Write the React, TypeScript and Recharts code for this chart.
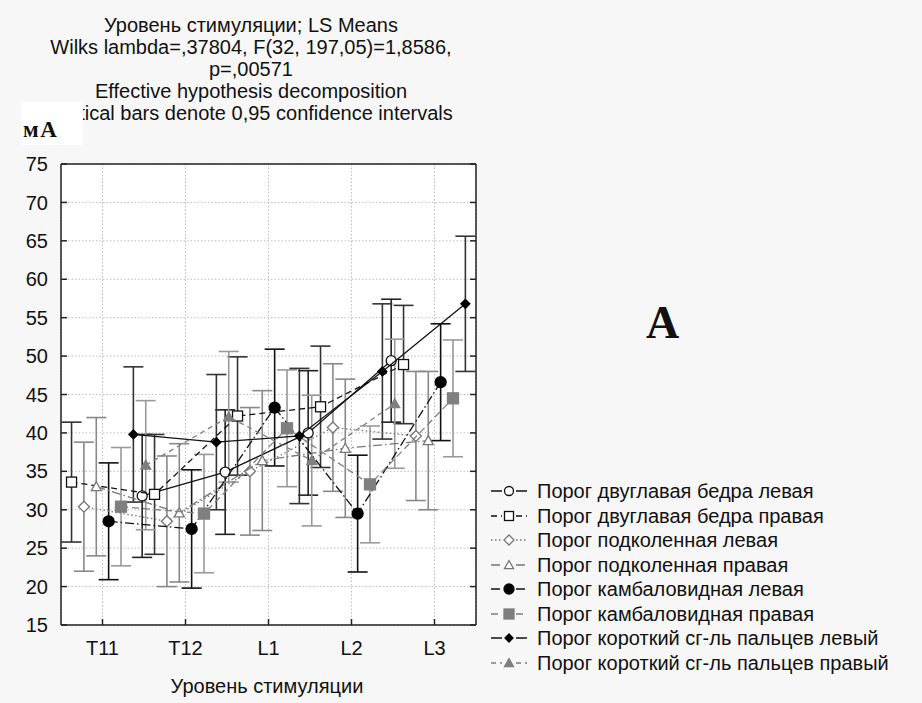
import React from 'react';
import { ScatterChart, Scatter, XAxis, YAxis, CartesianGrid, ErrorBar } from 'recharts';

// categories on the x axis
const categories = ['T11', 'T12', 'L1', 'L2', 'L3'];
const yTicks = [15, 20, 25, 30, 35, 40, 45, 50, 55, 60, 65, 70, 75];

// LS means and half-width of the 0.95 CI, one pair of arrays per series
const bicepsLeftMean = [null, 31.8, 34.9, 40.0, 49.4];
const bicepsLeftCi = [null, 8.0, 8.1, 8.1, 8.0];
const bicepsRightMean = [33.6, 32.0, 42.2, 43.4, 48.9];
const bicepsRightCi = [7.8, 7.8, 7.7, 7.9, 7.7];
const poplitealLeftMean = [30.4, 28.5, 35.0, 40.7, 39.6];
const poplitealLeftCi = [8.4, 8.5, 8.3, 8.3, 8.4];
const poplitealRightMean = [33.0, 29.6, 36.4, 38.0, 39.0];
const poplitealRightCi = [9.0, 9.0, 9.1, 9.0, 9.0];
const soleusLeftMean = [28.5, 27.5, 43.3, 29.5, 46.6];
const soleusLeftCi = [7.6, 7.7, 7.6, 7.6, 7.6];
const soleusRightMean = [30.4, 29.5, 40.6, 33.3, 44.5];
const soleusRightCi = [7.7, 7.7, 7.6, 7.6, 7.6];
const flexorLeftMean = [39.8, 38.8, 39.6, 48.0, 56.8];
const flexorLeftCi = [8.8, 8.8, 8.8, 8.8, 8.8];
const flexorRightMean = [35.8, 42.1, 36.4, 43.8, null];
const flexorRightCi = [8.4, 8.5, 8.5, 8.4, null];

type Kind = 'circle' | 'square' | 'diamond' | 'triangle';

interface SeriesCfg {
  name: string;
  mean: (number | null)[];
  ci: (number | null)[];
  offset: number;
  kind: Kind;
  size: number;
  fill: string;
  stroke: string;
  line: string;
  dash?: string;
  bar: string;
}

const series: SeriesCfg[] = [
  { name: 'Порог двуглавая бедра левая', mean: bicepsLeftMean, ci: bicepsLeftCi, offset: -0.522, kind: 'circle', size: 10, fill: '#fff', stroke: '#111', line: '#111', bar: '#222' },
  { name: 'Порог двуглавая бедра правая', mean: bicepsRightMean, ci: bicepsRightCi, offset: -0.373, kind: 'square', size: 10, fill: '#fff', stroke: '#111', line: '#111', dash: '6 4', bar: '#333' },
  { name: 'Порог подколенная левая', mean: poplitealLeftMean, ci: poplitealLeftCi, offset: -0.224, kind: 'diamond', size: 11, fill: '#fff', stroke: '#777', line: '#777', dash: '1.5 2.5', bar: '#888' },
  { name: 'Порог подколенная правая', mean: poplitealRightMean, ci: poplitealRightCi, offset: -0.075, kind: 'triangle', size: 10, fill: '#fff', stroke: '#777', line: '#777', dash: '9 3 1.5 3', bar: '#888' },
  { name: 'Порог камбаловидная левая', mean: soleusLeftMean, ci: soleusLeftCi, offset: 0.074, kind: 'circle', size: 11, fill: '#000', stroke: '#000', line: '#111', dash: '9 3 1.5 3', bar: '#111' },
  { name: 'Порог камбаловидная правая', mean: soleusRightMean, ci: soleusRightCi, offset: 0.223, kind: 'square', size: 11, fill: '#7f7f7f', stroke: '#7f7f7f', line: '#7f7f7f', dash: '7 4', bar: '#999' },
  { name: 'Порог короткий сг-ль пальцев левый', mean: flexorLeftMean, ci: flexorLeftCi, offset: 0.372, kind: 'diamond', size: 9, fill: '#000', stroke: '#000', line: '#111', bar: '#333' },
  { name: 'Порог короткий сг-ль пальцев правый', mean: flexorRightMean, ci: flexorRightCi, offset: 0.521, kind: 'triangle', size: 10, fill: '#7f7f7f', stroke: '#7f7f7f', line: '#7f7f7f', dash: '5 4', bar: '#999' },
];

const FONT = '"Liberation Sans", Arial, sans-serif';

const drawMarker = (kind: Kind, cx: number, cy: number, size: number, fill: string, stroke: string) => {
  const r = size / 2;
  if (kind === 'circle') return <circle cx={cx} cy={cy} r={r} fill={fill} stroke={stroke} strokeWidth={1.3} />;
  if (kind === 'square') return <rect x={cx - r} y={cy - r} width={size} height={size} fill={fill} stroke={stroke} strokeWidth={1.3} />;
  if (kind === 'diamond')
    return <polygon points={`${cx},${cy - r} ${cx + r},${cy} ${cx},${cy + r} ${cx - r},${cy}`} fill={fill} stroke={stroke} strokeWidth={1.3} />;
  return <polygon points={`${cx},${cy - r} ${cx + r},${cy + r * 0.8} ${cx - r},${cy + r * 0.8}`} fill={fill} stroke={stroke} strokeWidth={1.3} />;
};

const makeShape = (s: SeriesCfg) => (p: any) => {
  if (p.cx == null || p.cy == null) return <g />;
  return drawMarker(s.kind, p.cx, p.cy, s.size, s.fill, s.stroke);
};

const toPoints = (s: SeriesCfg) =>
  categories
    .map((c, i) => ({ x: i + 1 + s.offset, y: s.mean[i], err: s.ci[i], cat: c }))
    .filter((d) => d.y != null);

const LegendIcon = ({ s }: { s: SeriesCfg }) => (
  <svg width={36} height={16} style={{ display: 'block' }}>
    <line x1={0} y1={8} x2={11} y2={8} stroke={s.line} strokeWidth={1.5} strokeDasharray={s.dash} />
    <line x1={25} y1={8} x2={36} y2={8} stroke={s.line} strokeWidth={1.5} strokeDasharray={s.dash} />
    {drawMarker(s.kind, 18, 8, s.size - 1, s.fill, s.stroke)}
  </svg>
);

export default function App() {
  return (
    <div style={{ position: 'absolute', left: 0, top: 0, width: 922, height: 703, background: '#f7f7f7', fontFamily: FONT, color: '#111' }}>
      <div style={{ position: 'absolute', left: 0, top: 14, width: 502, textAlign: 'center', fontSize: 20, lineHeight: '22px' }}>
        <div>Уровень стимуляции; LS Means</div>
        <div>Wilks lambda=,37804, F(32, 197,05)=1,8586,</div>
        <div>p=,00571</div>
        <div>Effective hypothesis decomposition</div>
        <div>Vertical bars denote 0,95 confidence intervals</div>
      </div>
      <ScatterChart width={922} height={703} margin={{ top: 154, right: 436, bottom: 38, left: 11 }} style={{ position: 'absolute', left: 0, top: 0 }}>
        <CartesianGrid stroke="#bdbdbd" strokeDasharray="1.5 2" fill="#fff" />
        <XAxis
          type="number"
          dataKey="x"
          domain={[0.5, 5.5]}
          ticks={[1, 2, 3, 4, 5]}
          tickFormatter={(v: number) => categories[Math.round(v) - 1] ?? ''}
          allowDataOverflow
          height={40}
          tickSize={-6}
          tickMargin={22}
          axisLine={{ stroke: '#222', strokeWidth: 1.5 }}
          tickLine={{ stroke: '#222', strokeWidth: 1.5 }}
          tick={{ fontSize: 20, fill: '#111', fontFamily: FONT }}
        />
        <XAxis
          xAxisId="top"
          orientation="top"
          type="number"
          domain={[0.5, 5.5]}
          ticks={[1, 2, 3, 4, 5]}
          tickFormatter={() => ''}
          allowDataOverflow
          height={10}
          tickSize={-6}
          axisLine={{ stroke: '#222', strokeWidth: 1.5 }}
          tickLine={{ stroke: '#222', strokeWidth: 1.5 }}
        />
        <YAxis
          type="number"
          dataKey="y"
          domain={[15, 75]}
          ticks={yTicks}
          allowDataOverflow
          width={50}
          tickSize={-6}
          tickMargin={19}
          axisLine={{ stroke: '#222', strokeWidth: 1.5 }}
          tickLine={{ stroke: '#222', strokeWidth: 1.5 }}
          tick={{ fontSize: 20, fill: '#111', fontFamily: FONT }}
        />
        <YAxis
          yAxisId="right"
          orientation="right"
          type="number"
          domain={[15, 75]}
          ticks={yTicks}
          tickFormatter={() => ''}
          allowDataOverflow
          width={10}
          tickSize={-6}
          axisLine={{ stroke: '#222', strokeWidth: 1.5 }}
          tickLine={{ stroke: '#222', strokeWidth: 1.5 }}
        />
        {series.map((s) => (
          <Scatter
            key={s.name}
            name={s.name}
            data={toPoints(s)}
            line={{ stroke: s.line, strokeWidth: 1.3, strokeDasharray: s.dash }}
            lineType="joint"
            shape={makeShape(s)}
            isAnimationActive={false}
          >
            <ErrorBar dataKey="err" direction="y" width={10} stroke={s.bar} strokeWidth={1.6} />
          </Scatter>
        ))}
      </ScatterChart>
      <div style={{ position: 'absolute', left: 21, top: 102, width: 62, height: 43, background: '#fff' }} />
      <div style={{ position: 'absolute', left: 23, top: 117, fontFamily: '"Liberation Serif", serif', fontWeight: 'bold', fontSize: 23, lineHeight: '26px', letterSpacing: 1.5 }}>
        мА
      </div>
      <div style={{ position: 'absolute', left: 167, top: 675, width: 200, textAlign: 'center', fontSize: 20, lineHeight: '22px' }}>
        Уровень стимуляции
      </div>
      <div style={{ position: 'absolute', left: 646, top: 296, fontFamily: '"Liberation Serif", serif', fontWeight: 'bold', fontSize: 46, lineHeight: '54px' }}>
        A
      </div>
      <div style={{ position: 'absolute', left: 491, top: 479, fontSize: 20, lineHeight: '24.5px' }}>
        {series.map((s) => (
          <div key={s.name} style={{ display: 'flex', alignItems: 'center', height: 24.5 }}>
            <LegendIcon s={s} />
            <span style={{ marginLeft: 10, whiteSpace: 'nowrap' }}>{s.name}</span>
          </div>
        ))}
      </div>
    </div>
  );
}
